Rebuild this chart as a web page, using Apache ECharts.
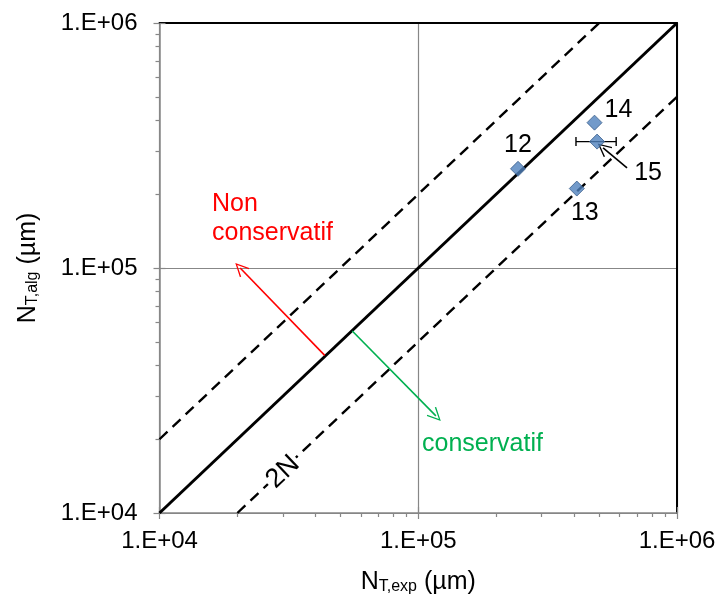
<!DOCTYPE html>
<html><head><meta charset="utf-8">
<script src="https://cdn.jsdelivr.net/npm/echarts@6/dist/echarts.min.js"></script>
<style>html,body{margin:0;padding:0;background:#fff}#c{width:719px;height:601px}</style>
</head><body><div id="c"></div>
<script>
// ---- data ----
const pointLabels = ['12', '13', '14', '15'];
const nExp = [2.43e5, 4.10e5, 4.80e5, 4.91e5];
const nAlg = [2.54e5, 2.11e5, 3.92e5, 3.28e5];
const errBar15 = [4.07e5, 5.82e5];
const majorTicks = [1e4, 1e5, 1e6];
const tickLabels = ['1.E+04', '1.E+05', '1.E+06'];
const minorTicks = [2e4, 3e4, 4e4, 5e4, 6e4, 7e4, 8e4, 9e4, 2e5, 3e5, 4e5, 5e5, 6e5, 7e5, 8e5, 9e5];
const lineEqual = [[1e4, 1e4], [1e6, 1e6]];
const lineUpper = [[1e4, 2e4], [5e5, 1e6]];
const lineLower = [[2e4, 1e4], [1e6, 5e5]];
const arrowNonCons = [[4.35e4, 4.40e4], [2.05e4, 1.0e5]];
const arrowCons = [[5.56e4, 5.53e4], [1.17e5, 2.49e4]];
const arrow15 = [[6.41e5, 2.56e5], [5.18e5, 3.09e5]];

// ---- styles ----
const L = v => Math.log10(v);
const font = 'Liberation Sans, Arial, sans-serif';
const gray = '#878787';
const chevron = 'path://M10,0 L20,17 L18.2,18 L10,3.6 L1.8,18 L0,17 Z';
const labelPlacement = [
  {position: 'top', distance: 3},
  {position: 'bottom', distance: 4, offset: [8, 0]},
  {position: 'right', distance: 2, offset: [0, -13]},
  {position: 'inside', offset: [51, 31]}
];

function fmt(v) {
  const i = majorTicks.findIndex(t => Math.abs(L(t) - v) < 1e-6);
  return i >= 0 ? tickLabels[i] : '';
}
const rich = {
  n: {fontSize: 25, fontFamily: font, color: '#000', lineHeight: 30, verticalAlign: 'bottom'},
  s: {fontSize: 16, fontFamily: font, color: '#000', lineHeight: 18, verticalAlign: 'bottom'}
};
function axisSet(isX) {
  const base = {type: 'value', min: 4, max: 6, interval: 1, gridIndex: 0};
  const pos = isX ? 'bottom' : 'left';
  const opp = isX ? 'top' : 'right';
  const tickStyle = {color: gray, width: 1.2};
  return [
    Object.assign({}, base, {
      position: pos,
      axisLine: {show: true, onZero: false, lineStyle: {color: gray, width: 1.5}},
      axisTick: {show: true, inside: false, length: 6, lineStyle: tickStyle},
      axisLabel: {show: true, formatter: fmt, fontSize: 24, fontFamily: font, color: '#000', margin: isX ? 16 : 22},
      splitLine: {show: true, lineStyle: {color: gray, width: 1.2}},
      name: isX ? '{n|N}{s|T,exp}{n| (µm)}' : '{n|N}{s|T,alg}{n| (µm)}',
      nameLocation: 'middle',
      nameGap: isX ? 52 : 119,
      nameTextStyle: {rich: rich}
    }),
    Object.assign({}, base, {
      position: pos,
      axisLine: {show: false}, axisLabel: {show: false}, splitLine: {show: false},
      axisTick: {show: true, inside: true, length: 6, lineStyle: tickStyle}
    }),
    Object.assign({}, base, {
      position: pos,
      axisLine: {show: false}, axisLabel: {show: false}, splitLine: {show: false},
      axisTick: {show: true, inside: false, length: 4, customValues: minorTicks.map(L), lineStyle: tickStyle}
    }),
    Object.assign({}, base, {
      position: opp,
      axisLine: {show: true, onZero: false, lineStyle: {color: '#000', width: 2}},
      axisTick: {show: false}, axisLabel: {show: false}, splitLine: {show: false}
    })
  ];
}
const toLog = pts => pts.map(p => [L(p[0]), L(p[1])]);
function arrowItem(pts, color) {
  const a = toLog(pts);
  return [
    {coord: a[0], symbol: 'none', lineStyle: {color: color, width: 1.6, type: 'solid'}, itemStyle: {color: color}},
    {coord: a[1], symbol: chevron, symbolSize: [13, 14], lineStyle: {color: color, width: 1.6, type: 'solid'}, itemStyle: {color: color}}
  ];
}

const chart = echarts.init(document.getElementById('c'), null, {renderer: 'canvas'});
chart.setOption({
  animation: false,
  backgroundColor: '#fff',
  grid: {left: 159.5, right: 42, top: 23, bottom: 88, containLabel: false, outerBoundsMode: 'none'},
  xAxis: axisSet(true),
  yAxis: axisSet(false),
  series: [
    {type: 'line', data: toLog(lineEqual), showSymbol: false, symbol: 'none', z: 3,
     lineStyle: {color: '#000', width: 3}, silent: true},
    {type: 'line', data: toLog(lineUpper), showSymbol: false, symbol: 'none', z: 3,
     lineStyle: {color: '#000', width: 2.4, type: [11, 7]}, silent: true},
    {type: 'line', data: toLog(lineLower), showSymbol: false, symbol: 'none', z: 3,
     lineStyle: {color: '#000', width: 2.4, type: [11, 7]}, silent: true},
    {type: 'line', data: errBar15.map(x => [L(x), L(nAlg[3])]), symbol: 'rect', symbolSize: [1.4, 9],
     showSymbol: true, z: 4, itemStyle: {color: '#000'}, lineStyle: {color: '#000', width: 1.2}, silent: true},
    {type: 'line', data: [], z: 4, silent: true,
     markLine: {silent: true, animation: false, label: {show: false}, symbol: ['none', 'none'],
       data: [arrowItem(arrowNonCons, '#FF0000'), arrowItem(arrowCons, '#00B050'), arrowItem(arrow15, '#000000')]}},
    {type: 'scatter', z: 6, symbol: 'diamond', symbolSize: 15,
     itemStyle: {color: '#4F81BD', borderColor: '#385D8A', borderWidth: 1},
     data: nExp.map((x, i) => ({
       value: [L(x), L(nAlg[i])], name: pointLabels[i],
       label: Object.assign({show: true, formatter: pointLabels[i], fontSize: 25, fontFamily: font, color: '#000',
         textBorderWidth: 0, opacity: 1}, labelPlacement[i])
     }))}
  ],
  graphic: [
    {type: 'text', z: 10, style: {x: 212, y: 189.5, text: 'Non\nconservatif', font: '25px ' + font, lineHeight: 29,
      fill: '#FF0000', align: 'left', verticalAlign: 'top'}},
    {type: 'text', z: 10, style: {x: 422, y: 444, text: 'conservatif', font: '25px ' + font,
      fill: '#00B050', align: 'left', verticalAlign: 'middle'}},
    {type: 'text', z: 10, x: 283, y: 472, rotation: 43.5 * Math.PI / 180,
     style: {x: 0, y: 0, text: '2N', font: '27px ' + font, fill: '#000', align: 'center', verticalAlign: 'middle',
       backgroundColor: '#fff', padding: [0, 2]}}
  ]
});
</script></body></html>
